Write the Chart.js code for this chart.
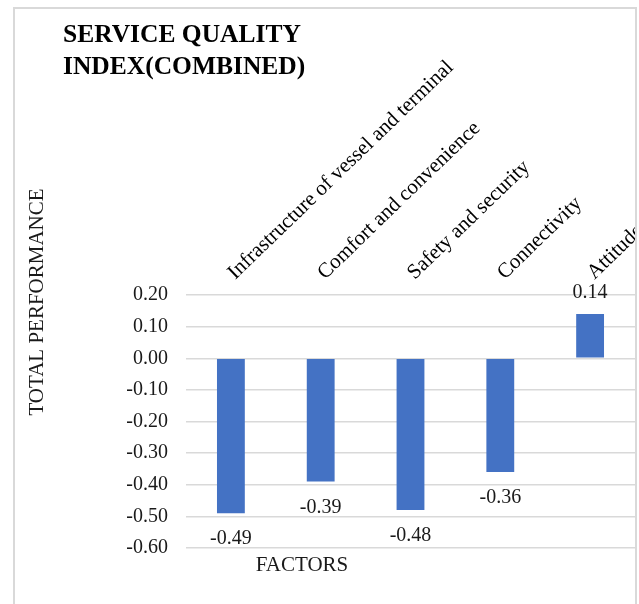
<!DOCTYPE html>
<html>
<head>
<meta charset="utf-8">
<script src="https://cdn.jsdelivr.net/npm/chart.js@4.4.1/dist/chart.umd.min.js"></script>
<style>
    body { margin: 0; background: #ffffff; }
    #marco {
        position: absolute; left: 13px; top: 7px;
        width: 620px; height: 620px;
        border: 2px solid #d9d9d9; border-bottom: none;
        overflow: hidden; background: #ffffff;
    }
    #myChart { display: block; }
</style>
</head>
<body>
<div id="marco">
    <canvas id="myChart" width="620" height="595"></canvas>
</div>
<script>
// datos del grafico
const factores = ["Infrastructure of vessel and terminal", "Comfort and convenience", "Safety and security", "Connectivity", "Attitude"];
const performance = [-0.49, -0.39, -0.48, -0.36, 0.14];
const titulo = ["SERVICE QUALITY", "INDEX(COMBINED)"];
const tituloY = "TOTAL PERFORMANCE";
const tituloX = "FACTORS";

const fuente = "'Liberation Serif', 'Times New Roman', serif";

// etiquetas de valores, titulo y titulos de ejes
const etiquetas = {
    id: 'etiquetas',
    afterDatasetsDraw(chart) {
        const ctx = chart.ctx;
        const area = chart.chartArea;
        ctx.save();
        ctx.fillStyle = '#1a1a1a';
        ctx.textAlign = 'center';
        ctx.textBaseline = 'middle';
        ctx.font = "20px " + fuente;
        chart.getDatasetMeta(0).data.forEach((bar, i) => {
            let v = performance[i];
            let y = v < 0 ? bar.y + 26 : bar.y - 21;
            ctx.fillText(v.toFixed(2), bar.x, y);
        });

        ctx.font = "21px " + fuente;
        ctx.fillText(tituloX, area.left + 116, area.bottom + 17);

        //titulo principal
        ctx.fillStyle = '#000000';
        ctx.textAlign = 'left';
        ctx.font = "bold 25.5px " + fuente;
        titulo.forEach((linea, i) => {
            ctx.fillText(linea, 48, 26 + i * 32);
        });

        ctx.textAlign = 'center';
        ctx.fillStyle = '#1a1a1a';
        ctx.font = "21px " + fuente;
        ctx.translate(22, area.top + 7);
        ctx.rotate(-Math.PI / 2);
        ctx.fillText(tituloY, 0, 0);
        ctx.restore();
    }
};

let myChart = null;
const ctx = document.getElementById('myChart');

myChart = new Chart(ctx, {
    type: 'bar',
    data: {
        labels: factores,
        datasets: [{
            data: performance,
            backgroundColor: '#4472C4',
            borderWidth: 0,
            barPercentage: 0.31,
            categoryPercentage: 1
        }]
    },
    options: {
        responsive: false,
        animation: false,
        layout: {
            padding: { left: 48, right: 0, top: 0, bottom: 56 }
        },
        plugins: {
            legend: { display: false },
            tooltip: { enabled: false },
            title: { display: false }
        },
        scales: {
            x: {
                position: 'top',
                grid: { display: false, drawTicks: false },
                border: { display: false },
                ticks: {
                    autoSkip: false,
                    minRotation: 44,
                    maxRotation: 44,
                    padding: 10,
                    labelOffset: 18,
                    color: '#000000',
                    font: { family: fuente, size: 21 }
                },
                afterFit: function (scale) {
                    scale.height = 286;
                    scale.paddingLeft = 0;
                    scale.paddingRight = 0;
                }
            },
            y: {
                min: -0.6,
                max: 0.2,
                grid: { color: '#d9d9d9', lineWidth: 1.5, drawTicks: false },
                border: { display: false },
                ticks: {
                    stepSize: 0.1,
                    padding: 18,
                    color: '#1a1a1a',
                    font: { family: fuente, size: 20 },
                    callback: function (v) {
                        if (Math.abs(v) < 1e-9) return '0.00';
                        return v.toFixed(2);
                    }
                },
                afterFit: function (scale) {
                    scale.width = 123;
                }
            }
        }
    },
    plugins: [etiquetas]
});
</script>
</body>
</html>
